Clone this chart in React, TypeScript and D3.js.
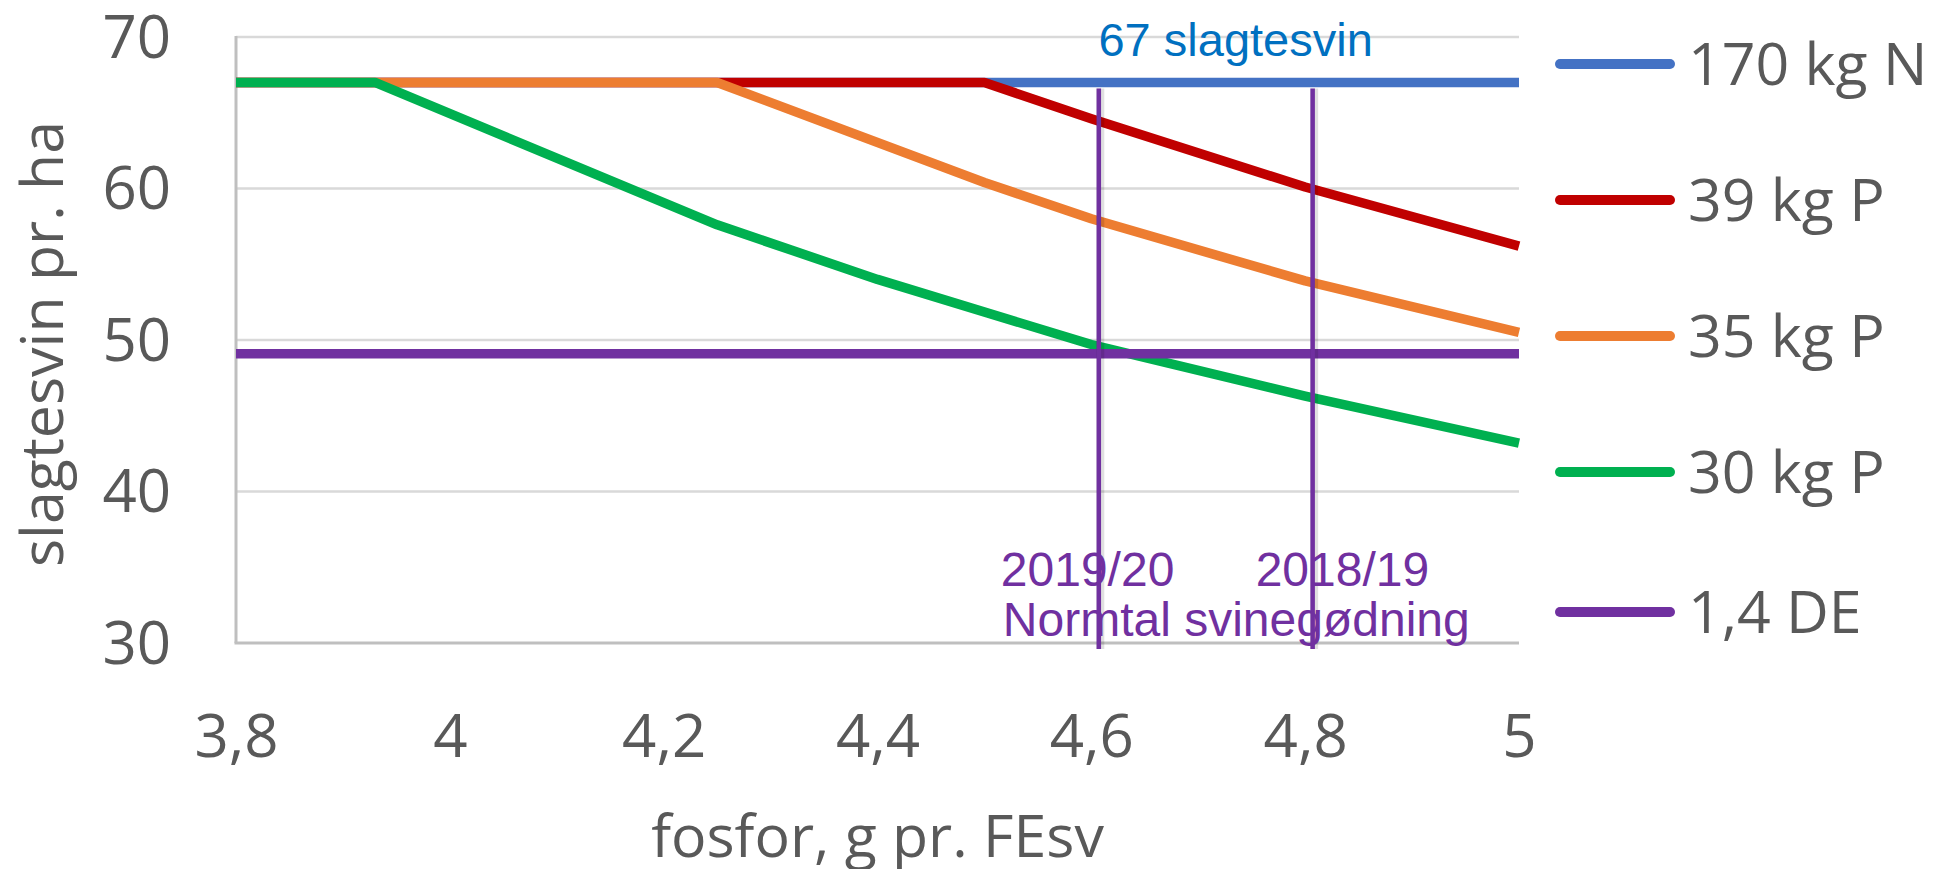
import * as d3 from 'd3'
import { useEffect, useRef } from 'react'

// axis ticks
const xTicks = [3.8, 4, 4.2, 4.4, 4.6, 4.8, 5]
const yTicks = [30, 40, 50, 60, 70]

// series, drawn in this order (later on top)
const seriesNames = ['170 kg N', '39 kg P', '35 kg P', '30 kg P', '1,4 DE']
const seriesColors = ['#4472C4', '#C00000', '#ED7D31', '#00B050', '#7030A0']

const fosforN170 = [3.8, 5.0]
const svinN170 = [67, 67]

const fosforP39 = [3.8, 4.5, 4.6, 4.8, 5.0]
const svinP39 = [67, 67, 64.6, 60.1, 56.2]

const fosforP35 = [3.8, 4.25, 4.5, 4.6, 4.8, 5.0]
const svinP35 = [67, 67, 60.4, 58.0, 53.9, 50.5]

const fosforP30 = [3.8, 3.93, 4.25, 4.4, 4.6, 4.8, 5.0]
const svinP30 = [67, 67, 57.6, 54.0, 49.7, 46.3, 43.2]

const fosforDE = [3.8, 5.0]
const svinDE = [49.1, 49.1]

// normtal markers (vertical lines)
const normtalYears = ['2019/20', '2018/19']
const normtalFosfor = [4.607, 4.807]

interface IPoint {
  x: number
  y: number
}

const zip = (xs: number[], ys: number[]): IPoint[] => xs.map((v, i) => ({ x: v, y: ys[i] }))

const App = () => {
  const ref = useRef<SVGSVGElement>(null)

  useEffect(() => {
    if (!ref.current) return
    const svg = d3.select(ref.current)
    svg.selectAll('*').remove()

    const calibri = '"Open Sans", "Noto Sans", sans-serif'
    const arial = '"Liberation Sans", Arial, sans-serif'
    const textGrey = '#595959'

    const plotLeft = 236
    const plotRight = 1519
    const plotTop = 37
    const plotBottom = 643

    const x = d3.scaleLinear().domain([3.8, 5]).range([plotLeft, plotRight])
    const y = d3.scaleLinear().domain([30, 70]).range([plotBottom, plotTop])

    // gridlines
    svg.append('g')
      .selectAll('line')
      .data(yTicks.filter(t => t > 30))
      .enter()
      .append('line')
      .attr('x1', plotLeft)
      .attr('x2', plotRight)
      .attr('y1', d => y(d))
      .attr('y2', d => y(d))
      .attr('stroke', '#D9D9D9')
      .attr('stroke-width', 2.5)

    // axis lines
    svg.append('line')
      .attr('x1', plotLeft)
      .attr('x2', plotLeft)
      .attr('y1', y(70) - 1)
      .attr('y2', plotBottom)
      .attr('stroke', '#BFBFBF')
      .attr('stroke-width', 3)
    svg.append('line')
      .attr('x1', plotLeft - 1.5)
      .attr('x2', plotRight)
      .attr('y1', plotBottom)
      .attr('y2', plotBottom)
      .attr('stroke', '#BFBFBF')
      .attr('stroke-width', 3)

    const comma = (d: d3.NumberValue) => String(+d).replace('.', ',')

    // y axis labels
    const yAxis = svg.append('g')
      .attr('transform', `translate(${plotLeft},0)`)
      .call(d3.axisLeft(y).tickValues(yTicks).tickSize(0).tickPadding(65).tickFormat(comma))
    yAxis.select('.domain').remove()
    yAxis.selectAll('text')
      .attr('dy', '0.34em')
      .style('font-size', '60px')
      .style('font-family', calibri)
      .style('fill', textGrey)

    // x axis labels
    const xAxis = svg.append('g')
      .attr('transform', `translate(0,${plotBottom})`)
      .call(d3.axisBottom(x).tickValues(xTicks).tickSize(0).tickPadding(71).tickFormat(comma))
    xAxis.select('.domain').remove()
    xAxis.selectAll('text')
      .style('font-size', '60px')
      .style('font-family', calibri)
      .style('fill', textGrey)

    // axis titles
    svg.append('text')
      .attr('transform', 'translate(63,344) rotate(-90)')
      .attr('text-anchor', 'middle')
      .style('font-size', '59px')
      .style('font-family', calibri)
      .style('fill', textGrey)
      .text('slagtesvin pr. ha')

    svg.append('text')
      .attr('x', (plotLeft + plotRight) / 2)
      .attr('y', 857)
      .attr('text-anchor', 'middle')
      .style('font-size', '59px')
      .style('font-family', calibri)
      .style('fill', textGrey)
      .text('fosfor, g pr. FEsv')

    // series lines
    const series = [
      zip(fosforN170, svinN170),
      zip(fosforP39, svinP39),
      zip(fosforP35, svinP35),
      zip(fosforP30, svinP30),
      zip(fosforDE, svinDE)
    ]

    const line = d3.line<IPoint>()
      .x(d => x(d.x))
      .y(d => y(d.y))

    svg.append('g')
      .selectAll('path')
      .data(series)
      .enter()
      .append('path')
      .attr('d', d => line(d))
      .attr('fill', 'none')
      .attr('stroke', (d, i) => seriesColors[i])
      .attr('stroke-width', 9.5)
      .attr('stroke-linejoin', 'round')
      .attr('stroke-linecap', 'butt')

    // normtal vertical lines, with a faint shadow behind
    const vlines = svg.append('g')
      .selectAll('g')
      .data(normtalFosfor)
      .enter()
      .append('g')

    vlines.append('line')
      .attr('x1', d => x(d) + 1.5)
      .attr('x2', d => x(d) + 1.5)
      .attr('y1', y(66.6))
      .attr('y2', y(29.6))
      .attr('stroke', '#000')
      .attr('stroke-opacity', 0.12)
      .attr('stroke-width', 8)

    vlines.append('line')
      .attr('x1', d => x(d))
      .attr('x2', d => x(d))
      .attr('y1', y(66.6))
      .attr('y2', y(29.6))
      .attr('stroke', '#7030A0')
      .attr('stroke-width', 4.5)

    // annotations
    svg.append('text')
      .attr('x', x(4.735))
      .attr('y', y(70) + 19)
      .attr('text-anchor', 'middle')
      .style('font-size', '47px')
      .style('font-family', arial)
      .style('fill', '#0070C0')
      .text('67 slagtesvin')

    const yearOffsets = [-98, -57]
    svg.append('g')
      .selectAll('text')
      .data(normtalYears)
      .enter()
      .append('text')
      .attr('x', (d, i) => x(normtalFosfor[i]) + yearOffsets[i])
      .attr('y', y(33.76))
      .style('font-size', '48px')
      .style('font-family', arial)
      .style('fill', '#7030A0')
      .text(d => d)

    svg.append('text')
      .attr('x', x(normtalFosfor[0]) - 96)
      .attr('y', y(30.45))
      .style('font-size', '48px')
      .style('font-family', arial)
      .style('fill', '#7030A0')
      .text('Normtal svinegødning')

    // legend
    const legendRowY = [64, 200, 336, 472, 612]
    const legend = svg.append('g')
    const item = legend.selectAll('g')
      .data(seriesNames)
      .enter()
      .append('g')
      .attr('transform', (d, i) => `translate(0,${legendRowY[i]})`)

    item.append('line')
      .attr('x1', 1560)
      .attr('x2', 1670)
      .attr('y1', 0)
      .attr('y2', 0)
      .attr('stroke', (d, i) => seriesColors[i])
      .attr('stroke-width', 10)
      .attr('stroke-linecap', 'round')

    item.append('text')
      .attr('x', 1688)
      .attr('y', 21)
      .style('font-size', '59px')
      .style('font-family', calibri)
      .style('fill', textGrey)
      .text(d => d)
  }, [])

  return (
    <svg
      ref={ref}
      width={1934}
      height={869}
      style={{ position: 'absolute', left: 0, top: 0, display: 'block', background: '#fff' }}
    />
  )
}

export default App
